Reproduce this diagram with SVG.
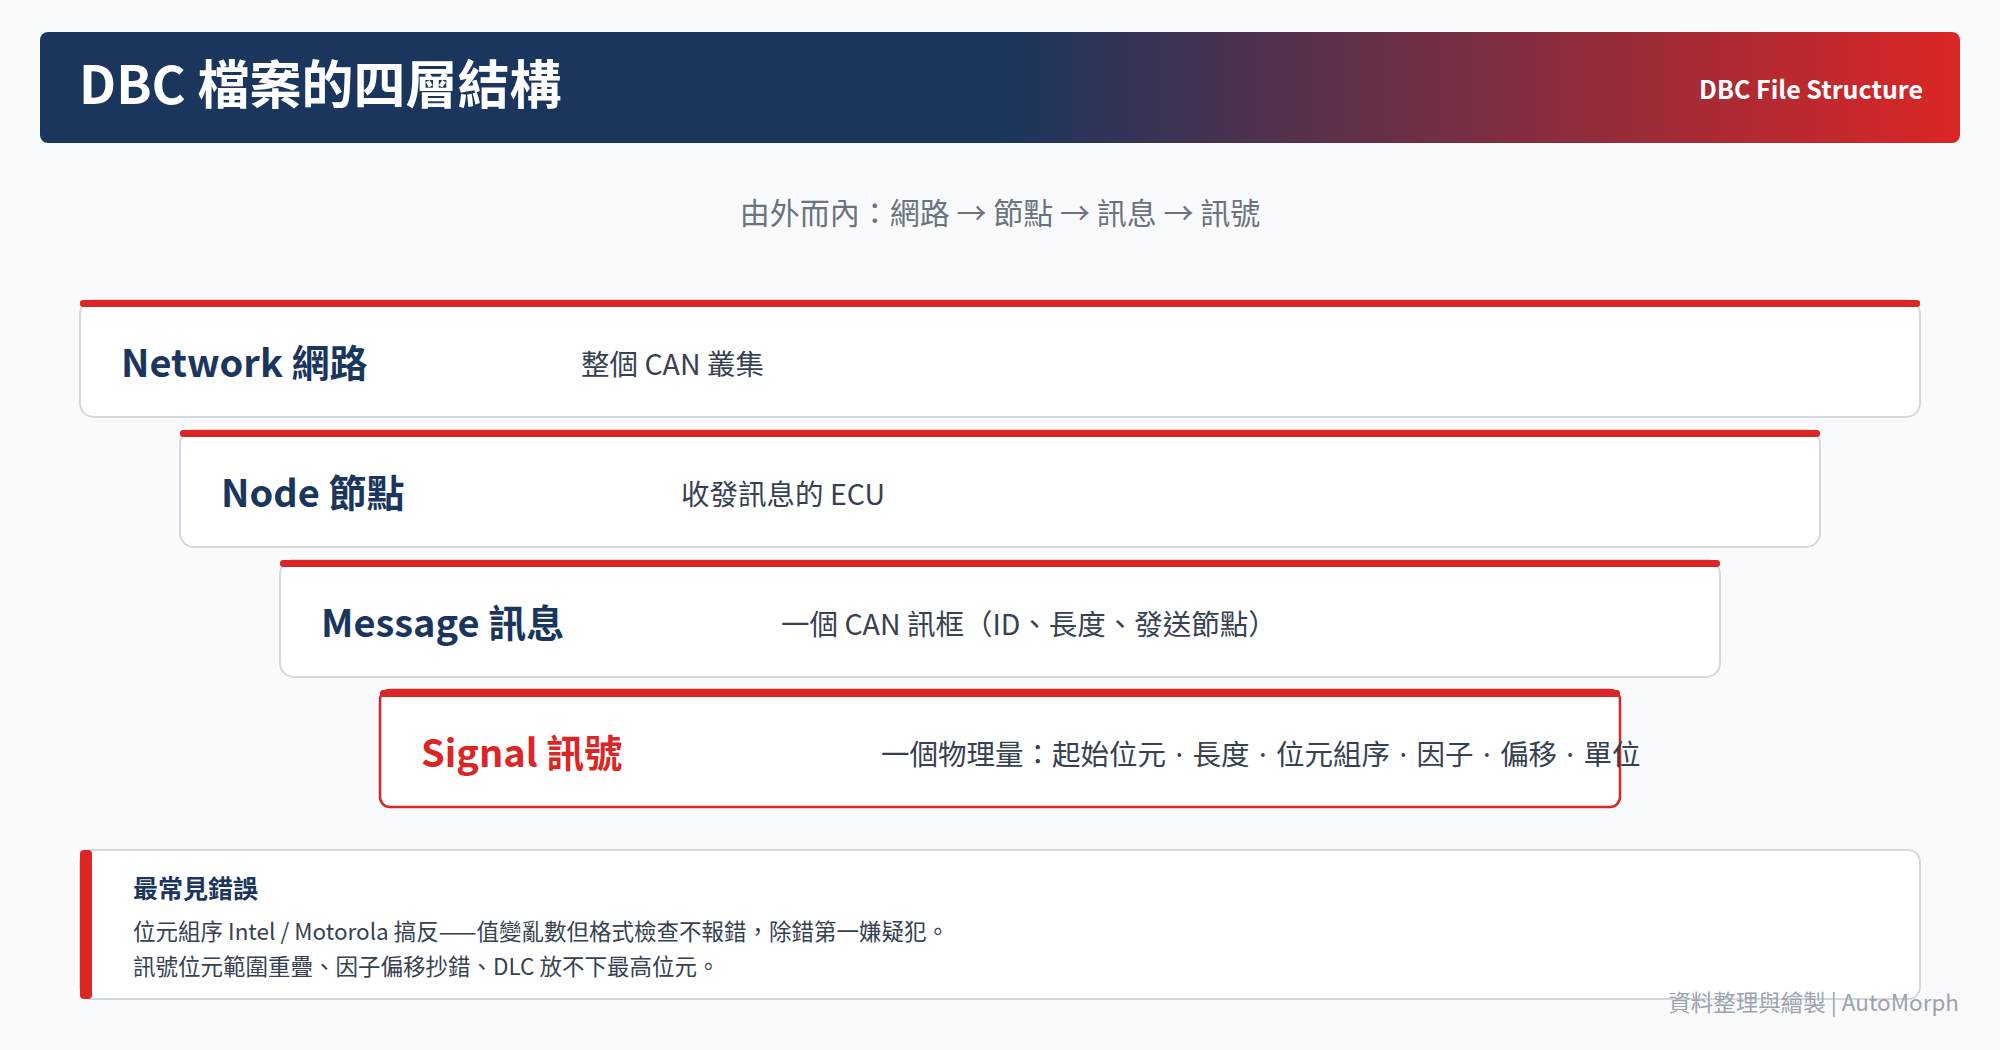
<svg xmlns="http://www.w3.org/2000/svg" width="2000" height="1050" viewBox="0 0 2000 1050">
<defs>
<linearGradient id="hdr" x1="0" y1="0" x2="1" y2="0">
<stop offset="0" stop-color="#1a365d"/>
<stop offset="0.5" stop-color="#1a365d"/>
<stop offset="1" stop-color="#dc2626"/>
</linearGradient>
<style>
text{font-family:"Noto Sans CJK TC","Noto Sans",sans-serif}
.box{fill:#ffffff;stroke:#d4d8de;stroke-width:2}
.sig{fill:#ffffff;stroke:#dc2626;stroke-width:2.5}
.bar{fill:#dc2626}
.lbl{font-size:38px;font-weight:700;fill:#1a365d}
.lblr{font-size:38px;font-weight:700;fill:#dc2626}
.desc{font-size:28.5px;fill:#374151}
.dot{font-family:"Noto Sans",sans-serif;word-spacing:2px}
.ct{font-size:25px;font-weight:700;fill:#1a365d}
.cl{font-size:22.5px;fill:#374151}
</style>
</defs>
<rect width="2000" height="1050" fill="#f8fafc"/>
<g id="header">
<rect x="40" y="32" width="1920" height="111" rx="8" fill="url(#hdr)"/>
<text x="79" y="104" font-size="52" font-weight="700" fill="#ffffff">DBC 檔案的四層結構</text>
<text x="1923" y="99" font-size="25" font-weight="700" fill="#ffffff" text-anchor="end">DBC File Structure</text>
</g>
<g id="subtitle">
<text x="1000" y="224" font-size="30" fill="#6b7280" text-anchor="middle">由外而內：網路 → 節點 → 訊息 → 訊號</text>
</g>
<g id="network">
<rect class="box" x="80" y="300" width="1840" height="117" rx="14"/>
<rect class="bar" x="80" y="300" width="1840" height="7" rx="3"/>
<text class="lbl" x="121" y="377">Network 網路</text>
<text class="desc" x="581" y="375">整個 CAN 叢集</text>
</g>
<g id="node">
<rect class="box" x="180" y="430" width="1640" height="117" rx="14"/>
<rect class="bar" x="180" y="430" width="1640" height="7" rx="3"/>
<text class="lbl" x="221" y="507">Node 節點</text>
<text class="desc" x="681" y="505">收發訊息的 ECU</text>
</g>
<g id="message">
<rect class="box" x="280" y="560" width="1440" height="117" rx="14"/>
<rect class="bar" x="280" y="560" width="1440" height="7" rx="3"/>
<text class="lbl" x="321" y="637">Message 訊息</text>
<text class="desc" x="781" y="635">一個 CAN 訊框（ID、長度、發送節點）</text>
</g>
<g id="signal">
<rect class="sig" x="380" y="690" width="1240" height="117" rx="10"/>
<rect class="bar" x="380" y="690" width="1240" height="7" rx="3"/>
<text class="lblr" x="421" y="767">Signal 訊號</text>
<text class="desc" x="881" y="765">一個物理量：起始位元<tspan class="dot"> · </tspan>長度<tspan class="dot"> · </tspan>位元組序<tspan class="dot"> · </tspan>因子<tspan class="dot"> · </tspan>偏移<tspan class="dot"> · </tspan>單位</text>
</g>
<g id="callout">
<rect class="box" x="80" y="850" width="1840" height="149" rx="12"/>
<rect class="bar" x="80" y="850" width="12" height="149" rx="4"/>
<text class="ct" x="133" y="898">最常見錯誤</text>
<text class="cl" x="133" y="940">位元組序 Intel / Motorola 搞反——值變亂數但格式檢查不報錯，除錯第一嫌疑犯。</text>
<text class="cl" x="133" y="975">訊號位元範圍重疊、因子偏移抄錯、DLC 放不下最高位元。</text>
</g>
<g id="connectors"></g>
<g id="footer">
<text x="1959" y="1011" font-size="22.5" fill="#9ca3af" text-anchor="end">資料整理與繪製 | AutoMorph</text>
</g>
</svg>
